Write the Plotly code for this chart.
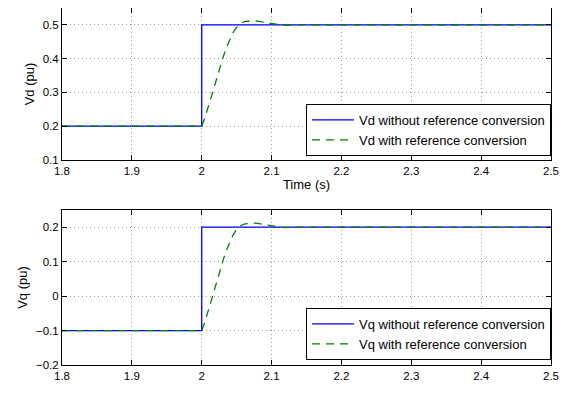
import plotly.graph_objects as go

# Time axis for ideal step (blue) traces
t_step = [1.8, 2.0, 2.0, 2.5]
vd_step = [0.2, 0.2, 0.5, 0.5]
vq_step = [-0.1, -0.1, 0.2, 0.2]

# Time axis for converted (green) traces
t_conv = [1.8, 2.0, 2.004, 2.008, 2.012, 2.016, 2.02, 2.024, 2.028, 2.032, 2.036,
          2.04, 2.044, 2.048, 2.052, 2.056, 2.062, 2.068, 2.074, 2.08, 2.088,
          2.096, 2.104, 2.112, 2.12, 2.14, 2.5]
vd_conv = [0.2, 0.2, 0.222, 0.247, 0.274, 0.302, 0.331, 0.36, 0.388, 0.413, 0.436,
           0.456, 0.474, 0.488, 0.498, 0.505, 0.51, 0.512, 0.512, 0.511, 0.508,
           0.505, 0.502, 0.5, 0.499, 0.5, 0.5]
vq_conv = [-0.1, -0.1, -0.078, -0.053, -0.026, 0.002, 0.031, 0.06, 0.088, 0.113, 0.136,
           0.156, 0.174, 0.188, 0.198, 0.205, 0.21, 0.212, 0.212, 0.211, 0.208,
           0.205, 0.202, 0.2, 0.199, 0.2, 0.2]

x_ticks = [1.8, 1.9, 2.0, 2.1, 2.2, 2.3, 2.4, 2.5]
vd_ticks = [0.1, 0.2, 0.3, 0.4, 0.5]
vq_ticks = [-0.2, -0.1, 0, 0.1, 0.2]

FONT = "Liberation Sans, Arial, sans-serif"

fig = go.Figure()
fig.add_trace(go.Scatter(x=t_step, y=vd_step, mode="lines",
                         line=dict(color="#0000ff", width=1.3),
                         name="Vd without reference conversion",
                         xaxis="x", yaxis="y", legend="legend"))
fig.add_trace(go.Scatter(x=t_conv, y=vd_conv, mode="lines",
                         line=dict(color="#008000", width=1.3, dash="8px,6px"),
                         name="Vd with reference conversion",
                         xaxis="x", yaxis="y", legend="legend"))
fig.add_trace(go.Scatter(x=t_step, y=vq_step, mode="lines",
                         line=dict(color="#0000ff", width=1.3),
                         name="Vq without reference conversion",
                         xaxis="x2", yaxis="y2", legend="legend2"))
fig.add_trace(go.Scatter(x=t_conv, y=vq_conv, mode="lines",
                         line=dict(color="#008000", width=1.3, dash="8px,6px"),
                         name="Vq with reference conversion",
                         xaxis="x2", yaxis="y2", legend="legend2"))

axis_common = dict(showline=True, linecolor="black", linewidth=1, mirror="allticks",
                   ticks="inside", ticklen=5, tickcolor="black", automargin=False,
                   showgrid=True, gridcolor="#999999", griddash="1px,3px", gridwidth=1,
                   zeroline=False, tickfont=dict(size=11.5, color="black", family=FONT))

# page body adds an 8px offset; plot area spans screen x 62..551, y 8..365
top_dom = [(365 - 160) / 357, 1.0]
bot_dom = [0.0, (365 - 210) / 357]

legend_common = dict(xanchor="right", yanchor="bottom", x=1.0,
                     bordercolor="black", borderwidth=1, bgcolor="white",
                     font=dict(size=13, family=FONT, color="black"),
                     tracegroupgap=0, itemwidth=42)

fig.update_layout(
    width=565, height=390,
    margin=dict(l=54, r=22, t=0, b=33),
    paper_bgcolor="white", plot_bgcolor="white",
    font=dict(family=FONT, size=12, color="black"),
    xaxis=dict(axis_common, range=[1.8, 2.5], tickvals=x_ticks, anchor="y",
               title=dict(text="Time (s)", standoff=4, font=dict(size=13))),
    yaxis=dict(axis_common, range=[0.1, 0.55], tickvals=vd_ticks, domain=top_dom,
               anchor="x", title=dict(text="Vd (pu)", standoff=5, font=dict(size=13))),
    xaxis2=dict(axis_common, range=[1.8, 2.5], tickvals=x_ticks, anchor="y2"),
    yaxis2=dict(axis_common, range=[-0.2, 0.25], tickvals=vq_ticks, domain=bot_dom,
                anchor="x2", title=dict(text="Vq (pu)", standoff=5, font=dict(size=13))),
    legend=dict(legend_common, y=(365 - 156) / 357),
    legend2=dict(legend_common, y=(365 - 360) / 357),
    showlegend=True,
)

fig.write_html("out.html")
